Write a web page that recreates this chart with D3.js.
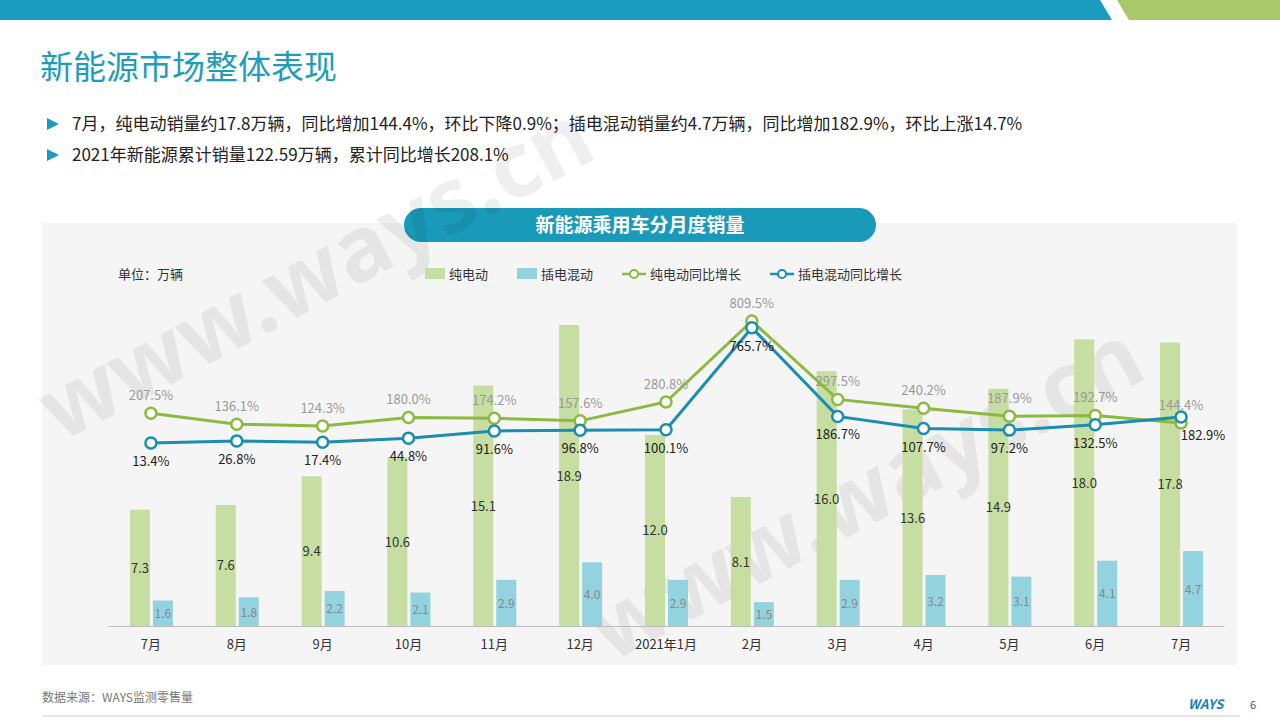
<!DOCTYPE html>
<html><head><meta charset="utf-8">
<script src="https://cdn.jsdelivr.net/npm/d3@7"></script>
<style>body{margin:0;background:#fff;font-family:"Noto Sans CJK SC","Noto Sans",sans-serif;}</style>
</head><body><div id="chart"></div>
<script>
// data
var months = ["7月","8月","9月","10月","11月","12月","2021年1月","2月","3月","4月","5月","6月","7月"];
var bevSales = [7.3,7.6,9.4,10.6,15.1,18.9,12.0,8.1,16.0,13.6,14.9,18.0,17.8];
var phevSales = [1.6,1.8,2.2,2.1,2.9,4.0,2.9,1.5,2.9,3.2,3.1,4.1,4.7];
var bevYoy = [207.5,136.1,124.3,180.0,174.2,157.6,280.8,809.5,297.5,240.2,187.9,192.7,144.4];
var phevYoy = [13.4,26.8,17.4,44.8,91.6,96.8,100.1,765.7,186.7,107.7,97.2,132.5,182.9];
var legendItems = ["纯电动","插电混动","纯电动同比增长","插电混动同比增长"];

var W = 1280, H = 720;
var cGreenBar = "#c6dea2", cBlueBar = "#92d3df", cGreenLine = "#8cb940", cBlueLine = "#1a8db0", cTeal = "#1a9cbf";

var svg = d3.select("#chart").append("svg").attr("width", W).attr("height", H);

// header
svg.append("path").attr("d", "M0,0 H1100 L1112,20 H0 Z").attr("fill", cTeal);
svg.append("path").attr("d", "M1117,0 H1280 V20 H1129 Z").attr("fill", "#a8c86a");
svg.append("text").attr("x", 40).attr("y", 79).attr("fill", "#1f9cbc")
  .style("font-size", "33px").text("新能源市场整体表现");

var bullets = ["7月，纯电动销量约17.8万辆，同比增加144.4%，环比下降0.9%；插电混动销量约4.7万辆，同比增加182.9%，环比上涨14.7%",
               "2021年新能源累计销量122.59万辆，累计同比增长208.1%"];
bullets.forEach(function(t, i) {
  var y = 130 + i * 31;
  svg.append("path").attr("d", "M47," + (y - 12) + " L59," + (y - 6) + " L47," + y + " Z").attr("fill", cTeal);
  svg.append("text").attr("x", 72).attr("y", y).attr("fill", "#222").style("font-size", "17px").text(t);
});

// panel
svg.append("rect").attr("x", 42).attr("y", 223).attr("width", 1195).attr("height", 442).attr("fill", "#f5f5f5");
svg.append("rect").attr("x", 404).attr("y", 208).attr("width", 472).attr("height", 34).attr("rx", 17).attr("fill", "#1a9ab9");
svg.append("text").attr("x", 640).attr("y", 232).attr("text-anchor", "middle").attr("fill", "#fff")
  .style("font-size", "19px").style("font-weight", "bold").text("新能源乘用车分月度销量");

// watermark
[[330, 300], [880, 520]].forEach(function(p) {
  svg.append("text").attr("transform", "translate(" + p[0] + "," + p[1] + ") rotate(-28)")
    .attr("text-anchor", "middle").attr("fill", "#000").attr("opacity", 0.06)
    .style("font-size", "90px").style("font-weight", "bold").style("font-family", "Noto Sans")
    .text("www.ways.cn");
});

var x = d3.scaleBand().domain(d3.range(months.length)).range([108, 1224]);
var y = d3.scaleLinear().domain([0, 18.9]).range([626, 325]);
var y2 = d3.scaleLinear().domain([0, 809.5]).range([445, 321]);
var bw = 20;

svg.append("text").attr("x", 118).attr("y", 279).style("font-size", "13px").attr("fill", "#333").text("单位：万辆");

// legend
var lx = [425, 517, 622, 770];
legendItems.forEach(function(t, i) {
  var g = svg.append("g").attr("transform", "translate(" + lx[i] + ",274)");
  if (i < 2) {
    g.append("rect").attr("x", 0).attr("y", -6).attr("width", 20).attr("height", 11).attr("fill", i ? cBlueBar : cGreenBar);
    g.append("text").attr("x", 24).attr("y", 5).style("font-size", "13px").attr("fill", "#333").text(t);
  } else {
    var c = i === 2 ? cGreenLine : cBlueLine;
    g.append("line").attr("x1", 0).attr("x2", 24).attr("stroke", c).attr("stroke-width", 2.5);
    g.append("circle").attr("cx", 12).attr("r", 4).attr("fill", "#fff").attr("stroke", c).attr("stroke-width", 2);
    g.append("text").attr("x", 28).attr("y", 5).style("font-size", "13px").attr("fill", "#333").text(t);
  }
});

var cx = function(i) { return x(i) + x.bandwidth() / 2; };

// bars
svg.selectAll(".bev").data(bevSales).enter().append("rect")
  .attr("x", function(d, i) { return cx(i) - bw - 1; }).attr("y", function(d) { return y(d); })
  .attr("width", bw).attr("height", function(d) { return y(0) - y(d); }).attr("fill", cGreenBar);
svg.selectAll(".phev").data(phevSales).enter().append("rect")
  .attr("x", function(d, i) { return cx(i) + 2; }).attr("y", function(d) { return y(d); })
  .attr("width", bw).attr("height", function(d) { return y(0) - y(d); }).attr("fill", cBlueBar);
svg.selectAll(".bevl").data(bevSales).enter().append("text")
  .attr("x", function(d, i) { return cx(i) - bw / 2 - 1; }).attr("y", function(d) { return (y(d) + y(0)) / 2 + 5; })
  .attr("text-anchor", "middle").style("font-size", "13px").attr("fill", "#333").text(function(d) { return d.toFixed(1); });
svg.selectAll(".phevl").data(phevSales).enter().append("text")
  .attr("x", function(d, i) { return cx(i) + bw / 2 + 2; }).attr("y", function(d) { return (y(d) + y(0)) / 2 + 5; })
  .attr("text-anchor", "middle").style("font-size", "12px").attr("fill", "#888").text(function(d) { return d.toFixed(1); });

// axis
var xAxis = d3.axisBottom(x).tickSize(0).tickFormat(function(i) { return months[i]; });
var ax = svg.append("g").attr("transform", "translate(0," + y(0) + ")").call(xAxis);
ax.select(".domain").attr("stroke", "#bbb");
ax.selectAll("text").attr("dy", "1.5em").style("font-size", "13px").attr("fill", "#333")
  .style("font-family", "Noto Sans CJK SC");

// lines
function drawLine(data, color, labelColor, dy) {
  var line = d3.line().x(function(d, i) { return cx(i); }).y(function(d) { return y2(d); });
  svg.append("path").datum(data).attr("d", line).attr("fill", "none").attr("stroke", color).attr("stroke-width", 3);
  svg.selectAll(null).data(data).enter().append("circle")
    .attr("cx", function(d, i) { return cx(i); }).attr("cy", function(d) { return y2(d); })
    .attr("r", 5.5).attr("fill", "#fff").attr("stroke", color).attr("stroke-width", 2.5);
  svg.selectAll(null).data(data).enter().append("text")
    .attr("x", function(d, i) { return cx(i) + (i === data.length - 1 && dy > 0 ? 22 : 0); })
    .attr("y", function(d) { return y2(d) + dy; })
    .attr("text-anchor", "middle").style("font-size", "13px").attr("fill", labelColor)
    .text(function(d) { return d.toFixed(1) + "%"; });
}
drawLine(bevYoy, cGreenLine, "#999", -13);
drawLine(phevYoy, cBlueLine, "#222", 23);

// footer
svg.append("text").attr("x", 42).attr("y", 702).style("font-size", "12px").attr("fill", "#777").text("数据来源：WAYS监测零售量");
svg.append("line").attr("x1", 42).attr("x2", 1240).attr("y1", 716).attr("y2", 716).attr("stroke", "#ccc");
svg.append("text").attr("x", 1188).attr("y", 709).style("font-size", "13px").style("font-style", "italic")
  .style("font-weight", "bold").attr("fill", "#1a7fb0").text("WAYS");
svg.append("text").attr("x", 1250).attr("y", 709).style("font-size", "11px").attr("fill", "#555").text("6");
</script></body></html>
